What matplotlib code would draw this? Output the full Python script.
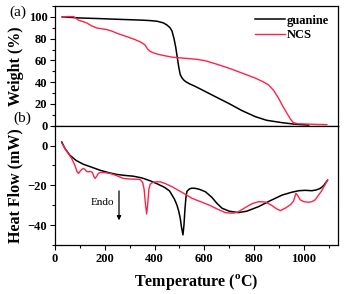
import matplotlib
matplotlib.use("Agg")
import matplotlib.pyplot as plt
from matplotlib.ticker import MultipleLocator

plt.rcParams['font.family'] = ['Liberation Serif', 'DejaVu Serif']
plt.rcParams['mathtext.fontset'] = 'custom'
plt.rcParams['mathtext.rm'] = 'Liberation Serif'
plt.rcParams['mathtext.bf'] = 'Liberation Serif:bold'

# TGA data
tga_guanine_T = [30, 47, 100, 181, 250, 300, 350, 382, 410, 435, 450, 462, 470, 478, 485, 491, 497, 503, 510, 517, 525, 540, 560, 604, 650, 697, 750, 805, 850, 912, 960, 1019]
tga_guanine_W = [100, 99.8, 99, 98.4, 97.8, 97.4, 97, 96.6, 96, 94.5, 92.5, 90, 87, 80, 72, 63, 54, 47, 44, 42, 40.5, 38.5, 36.5, 31.4, 26, 20.6, 14, 8.3, 5, 2.8, 1.5, 0.6]
tga_ncs_T = [27, 50, 74, 85, 94, 110, 127, 145, 167, 190, 208, 230, 248, 280, 315, 340, 361, 372, 382, 395, 408, 430, 470, 520, 570, 604, 650, 697, 750, 805, 835, 858, 878, 898, 915, 932, 946, 958, 975, 1005, 1050, 1092]
tga_ncs_W = [100, 100.3, 100.3, 98.5, 97, 95.8, 94.5, 92, 89.8, 89, 88.3, 86.8, 85, 82.5, 79.7, 77.3, 74.4, 70.5, 68.3, 67, 66, 64.8, 63, 62, 61, 59.7, 56.5, 53, 48.5, 43.7, 40.5, 37.5, 32.5, 25.3, 18, 11.4, 6, 2.8, 1.8, 1.6, 1.2, 1.0]

# DSC data
dsc_guanine_T = [27, 40, 60, 85, 114, 150, 181, 215, 248, 280, 315, 350, 382, 410, 440, 460, 470, 480, 490, 497, 503, 508, 514, 518, 522, 526, 530, 540, 550, 563, 580, 604, 630, 650, 671, 700, 738, 770, 818, 860, 912, 950, 979, 1005, 1032, 1050, 1066, 1080, 1095]
dsc_guanine_H = [1.8, -1.5, -4.9, -7.5, -9.4, -11, -12.4, -13.6, -14.5, -15, -15.4, -16.3, -17.7, -19.2, -21, -22.8, -24.9, -27, -30, -33, -36.5, -41, -44.9, -40, -32, -26, -23, -21.8, -21.4, -21.5, -22, -23.2, -26, -29, -31.5, -33, -33.7, -33, -30.7, -28, -24.9, -23.5, -22.7, -22.5, -22.7, -22.3, -21.5, -20, -17.4]
dsc_ncs_T = [27, 45, 67, 80, 88, 94, 100, 107, 114, 120, 127, 134, 142, 150, 156, 161, 167, 174, 181, 200, 221, 245, 274, 300, 341, 352, 358, 363, 368, 372, 377, 382, 390, 400, 422, 445, 470, 510, 550, 617, 650, 684, 710, 731, 760, 790, 818, 845, 870, 890, 905, 925, 945, 958, 968, 977, 985, 1000, 1019, 1032, 1045, 1070, 1095]
dsc_ncs_H = [1.3, -2.5, -6.5, -10, -13, -14, -13, -12, -11.5, -12, -13, -13.2, -13, -13.5, -15.5, -16.5, -15.5, -14, -13.5, -13.6, -14, -15, -16.5, -16.8, -17, -18.5, -22, -29, -34.4, -30, -22, -19.5, -18.7, -18.3, -18.2, -19.2, -20.7, -23.5, -26.5, -29.8, -31.8, -33.7, -34, -33.7, -31.5, -29.3, -28.2, -28.4, -30, -31.8, -32.7, -31.5, -29.8, -28, -24, -25.5, -27.3, -28.2, -28.5, -28.2, -27.3, -23, -17.4]

red = '#ff2246'

fig = plt.figure(figsize=(3.44, 2.94), dpi=100)
ax1 = fig.add_axes([0.160, 0.5724, 0.8226, 0.4072])
ax2 = fig.add_axes([0.160, 0.1667, 0.8226, 0.4057])

ax1.plot(tga_guanine_T, tga_guanine_W, color='black', lw=1.1, label='guanine')
ax1.plot(tga_ncs_T, tga_ncs_W, color=red, lw=1.0, label='NCS')
ax2.plot(dsc_guanine_T, dsc_guanine_H, color='black', lw=1.1)
ax2.plot(dsc_ncs_T, dsc_ncs_H, color=red, lw=1.0)

for ax in (ax1, ax2):
    ax.set_xlim(0, 1137)
    ax.xaxis.set_major_locator(MultipleLocator(200))
    ax.xaxis.set_minor_locator(MultipleLocator(100))
    ax.tick_params(which='major', direction='out', length=3.5, width=0.8, labelsize=9, pad=2)
    ax.tick_params(which='minor', direction='out', length=2, width=0.8)
    for s in ax.spines.values():
        s.set_linewidth(0.9)

ax1.set_ylim(0, 110)
ax1.yaxis.set_major_locator(MultipleLocator(20))
ax1.yaxis.set_minor_locator(MultipleLocator(10))
ax1.tick_params(axis='x', which='both', bottom=False, labelbottom=False)

ax2.set_ylim(-50, 10)
ax2.yaxis.set_major_locator(MultipleLocator(20))
ax2.yaxis.set_minor_locator(MultipleLocator(10))

for ax in (ax1, ax2):
    for lab in ax.get_xticklabels() + ax.get_yticklabels():
        lab.set_fontweight('bold')

ax1.set_ylabel('Weight (%)', fontsize=11.5, fontweight='bold', labelpad=3)
ax2.set_ylabel('Heat Flow (mW)', fontsize=11.5, fontweight='bold', labelpad=3)
ax2.set_xlabel(r'Temperature ($^{\mathbf{o}}$C)', fontsize=11.5, fontweight='bold', labelpad=5)
fig.align_ylabels([ax1, ax2])

ax1.legend(loc='upper right', frameon=False, handlelength=2.4,
           handletextpad=0.15, labelspacing=0.2, borderaxespad=0.3,
           prop={'weight': 'bold', 'size': 9})

fig.text(0.051, 0.958, '(a)', fontsize=11, ha='center', va='center')
fig.text(0.064, 0.598, '(b)', fontsize=11, ha='center', va='center')

ax2.text(189, -28.4, 'Endo', fontsize=8, ha='center', va='center')
ax2.annotate('', xy=(257, -39), xytext=(257, -21.4),
             arrowprops=dict(arrowstyle='-|>', color='black', lw=0.9, mutation_scale=6))

fig.savefig('out.png', dpi=100)
